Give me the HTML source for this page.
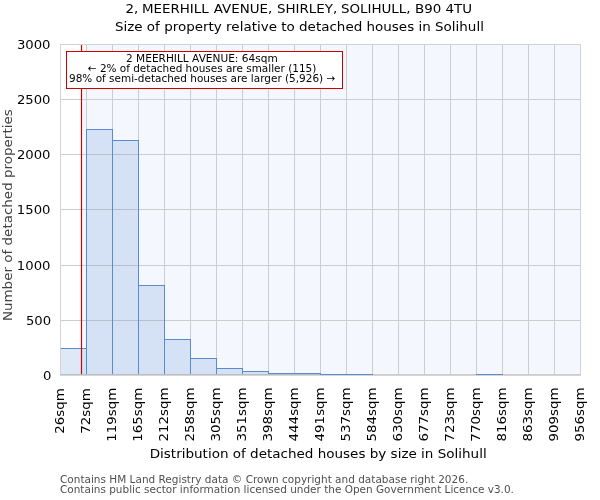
<!DOCTYPE html>
<html lang="en"><head><meta charset="utf-8"><title>2, MEERHILL AVENUE, SHIRLEY, SOLIHULL, B90 4TU</title>
<style>html,body{margin:0;padding:0;background:#fff;}svg{display:block;will-change:transform;}text{font-family:'DejaVu Sans','Liberation Sans',sans-serif;}</style>
</head><body>
<svg width="600" height="500" viewBox="0 0 600 500">
<rect x="0" y="0" width="600" height="500" fill="#ffffff"/>
<rect x="81.5" y="44" width="499.5" height="331" fill="#f4f8fe"/>
<path d="M86.5 44V375M112.5 44V375M138.5 44V375M164.5 44V375M190.5 44V375M216.5 44V375M242.5 44V375M268.5 44V375M294.5 44V375M320.5 44V375M346.5 44V375M372.5 44V375M398.5 44V375M424.5 44V375M450.5 44V375M476.5 44V375M502.5 44V375M528.5 44V375M554.5 44V375M60 99.5H581M60 154.5H581M60 209.5H581M60 265.5H581M60 320.5H581" stroke="#cdcdcd" stroke-width="1" fill="none"/>
<rect x="60.5" y="348.5" width="26" height="26.2" fill="rgba(90,138,208,0.20)" stroke="#5a8ad0" stroke-width="1"/>
<rect x="86.5" y="129.5" width="26" height="245.2" fill="rgba(90,138,208,0.20)" stroke="#5a8ad0" stroke-width="1"/>
<rect x="112.5" y="140.5" width="26" height="234.2" fill="rgba(90,138,208,0.20)" stroke="#5a8ad0" stroke-width="1"/>
<rect x="138.5" y="285.5" width="26" height="89.2" fill="rgba(90,138,208,0.20)" stroke="#5a8ad0" stroke-width="1"/>
<rect x="164.5" y="339.5" width="26" height="35.2" fill="rgba(90,138,208,0.20)" stroke="#5a8ad0" stroke-width="1"/>
<rect x="190.5" y="358.5" width="26" height="16.2" fill="rgba(90,138,208,0.20)" stroke="#5a8ad0" stroke-width="1"/>
<rect x="216.5" y="368.5" width="26" height="6.2" fill="rgba(90,138,208,0.20)" stroke="#5a8ad0" stroke-width="1"/>
<rect x="242.5" y="371.5" width="26" height="3.2" fill="rgba(90,138,208,0.20)" stroke="#5a8ad0" stroke-width="1"/>
<rect x="268.5" y="373.5" width="26" height="1.2" fill="rgba(90,138,208,0.20)" stroke="#5a8ad0" stroke-width="1"/>
<rect x="294.5" y="373.5" width="26" height="1.2" fill="rgba(90,138,208,0.20)" stroke="#5a8ad0" stroke-width="1"/>
<rect x="320.5" y="374.5" width="26" height="0.2" fill="rgba(90,138,208,0.20)" stroke="#5a8ad0" stroke-width="1"/>
<rect x="346.5" y="374.5" width="26" height="0.2" fill="rgba(90,138,208,0.20)" stroke="#5a8ad0" stroke-width="1"/>
<rect x="476.5" y="374.5" width="26" height="0.2" fill="rgba(90,138,208,0.20)" stroke="#5a8ad0" stroke-width="1"/>
<line x1="81.5" y1="44" x2="81.5" y2="375" stroke="#cc0000" stroke-width="1.15"/>
<path d="M60 44.5H581M60.5 44V376M580.5 44V376" stroke="#d3d3d3" stroke-width="1" fill="none"/>
<rect x="60" y="374" width="521" height="1" fill="#c4c4c4" fill-opacity="0.85"/>
<rect x="60" y="375" width="521" height="1" fill="#d6d6d6"/>
<path d="M320 374.5H373M476 374.5H503" stroke="#5a8ad0" stroke-width="1" fill="none"/>
<rect x="66.5" y="51.5" width="276" height="37" fill="#ffffff" stroke="#cc0000" stroke-width="1"/>
<text transform="translate(126.03,62.00) scale(1.0150,1)" font-size="10.42" fill="#000">2 MEERHILL AVENUE: 64sqm</text>
<text transform="translate(87.79,72.00) scale(1.0053,1)" font-size="10.42" fill="#000">← 2% of detached houses are smaller (115)</text>
<text transform="translate(69.04,82.00) scale(1.0060,1)" font-size="10.42" fill="#000">98% of semi-detached houses are larger (5,926) →</text>
<text transform="translate(0,13.00) scale(1.0323,1)" font-size="13" fill="#000000"><tspan x="121.63">2,</tspan> <tspan x="137.50">MEERHILL</tspan> <tspan x="207.12">AVENUE,</tspan> <tspan x="268.29">SHIRLEY,</tspan> <tspan x="330.22">SOLIHULL,</tspan> <tspan x="402.01">B90</tspan> <tspan x="431.53">4TU</tspan></text>
<text transform="translate(114.91,31.00) scale(1.0377,1)" font-size="13" fill="#000000">Size of property relative to detached houses in Solihull</text>
<text transform="translate(16.89,49.00) scale(1.0154,1)" font-size="13" fill="#000000">3000</text>
<text transform="translate(16.91,104.00) scale(1.0154,1)" font-size="13" fill="#000000">2500</text>
<text transform="translate(16.91,159.00) scale(1.0154,1)" font-size="13" fill="#000000">2000</text>
<text transform="translate(16.87,214.00) scale(1.0154,1)" font-size="13" fill="#000000">1500</text>
<text transform="translate(16.87,270.00) scale(1.0154,1)" font-size="13" fill="#000000">1000</text>
<text transform="translate(25.98,325.00) scale(1.0154,1)" font-size="13" fill="#000000">500</text>
<text transform="translate(42.95,380.00) scale(1.0154,1)" font-size="13" fill="#000000">0</text>
<text transform="translate(12.00,321.12) rotate(-90) scale(1.0369,1)" font-size="13" fill="#414141">Number of detached properties</text>
<text transform="translate(64.00,433.72) rotate(-90) scale(1.0308,1)" font-size="13" fill="#000000">26sqm</text>
<text transform="translate(90.00,433.78) rotate(-90) scale(1.0308,1)" font-size="13" fill="#000000">72sqm</text>
<text transform="translate(116.00,441.83) rotate(-90) scale(1.0308,1)" font-size="13" fill="#000000">119sqm</text>
<text transform="translate(142.00,441.83) rotate(-90) scale(1.0308,1)" font-size="13" fill="#000000">165sqm</text>
<text transform="translate(168.00,441.58) rotate(-90) scale(1.0308,1)" font-size="13" fill="#000000">212sqm</text>
<text transform="translate(194.00,441.58) rotate(-90) scale(1.0308,1)" font-size="13" fill="#000000">258sqm</text>
<text transform="translate(220.00,441.60) rotate(-90) scale(1.0308,1)" font-size="13" fill="#000000">305sqm</text>
<text transform="translate(246.00,441.60) rotate(-90) scale(1.0308,1)" font-size="13" fill="#000000">351sqm</text>
<text transform="translate(272.00,441.60) rotate(-90) scale(1.0308,1)" font-size="13" fill="#000000">398sqm</text>
<text transform="translate(298.00,441.42) rotate(-90) scale(1.0308,1)" font-size="13" fill="#000000">444sqm</text>
<text transform="translate(324.00,441.42) rotate(-90) scale(1.0308,1)" font-size="13" fill="#000000">491sqm</text>
<text transform="translate(350.00,441.61) rotate(-90) scale(1.0308,1)" font-size="13" fill="#000000">537sqm</text>
<text transform="translate(376.00,441.61) rotate(-90) scale(1.0308,1)" font-size="13" fill="#000000">584sqm</text>
<text transform="translate(402.00,441.56) rotate(-90) scale(1.0308,1)" font-size="13" fill="#000000">630sqm</text>
<text transform="translate(428.00,441.56) rotate(-90) scale(1.0308,1)" font-size="13" fill="#000000">677sqm</text>
<text transform="translate(454.00,441.64) rotate(-90) scale(1.0308,1)" font-size="13" fill="#000000">723sqm</text>
<text transform="translate(480.00,441.64) rotate(-90) scale(1.0308,1)" font-size="13" fill="#000000">770sqm</text>
<text transform="translate(506.00,441.54) rotate(-90) scale(1.0308,1)" font-size="13" fill="#000000">816sqm</text>
<text transform="translate(532.00,441.54) rotate(-90) scale(1.0308,1)" font-size="13" fill="#000000">863sqm</text>
<text transform="translate(558.00,441.51) rotate(-90) scale(1.0308,1)" font-size="13" fill="#000000">909sqm</text>
<text transform="translate(584.00,441.51) rotate(-90) scale(1.0308,1)" font-size="13" fill="#000000">956sqm</text>
<text transform="translate(149.67,458.00) scale(1.0399,1)" font-size="13" fill="#000000">Distribution of detached houses by size in Solihull</text>
<text transform="translate(60.01,483.00) scale(1.0080,1)" font-size="10.42" fill="#505050">Contains HM Land Registry data © Crown copyright and database right 2026.</text>
<text transform="translate(60.01,493.00) scale(1.0066,1)" font-size="10.42" fill="#505050">Contains public sector information licensed under the Open Government Licence v3.0.</text>
</svg>
</body></html>
